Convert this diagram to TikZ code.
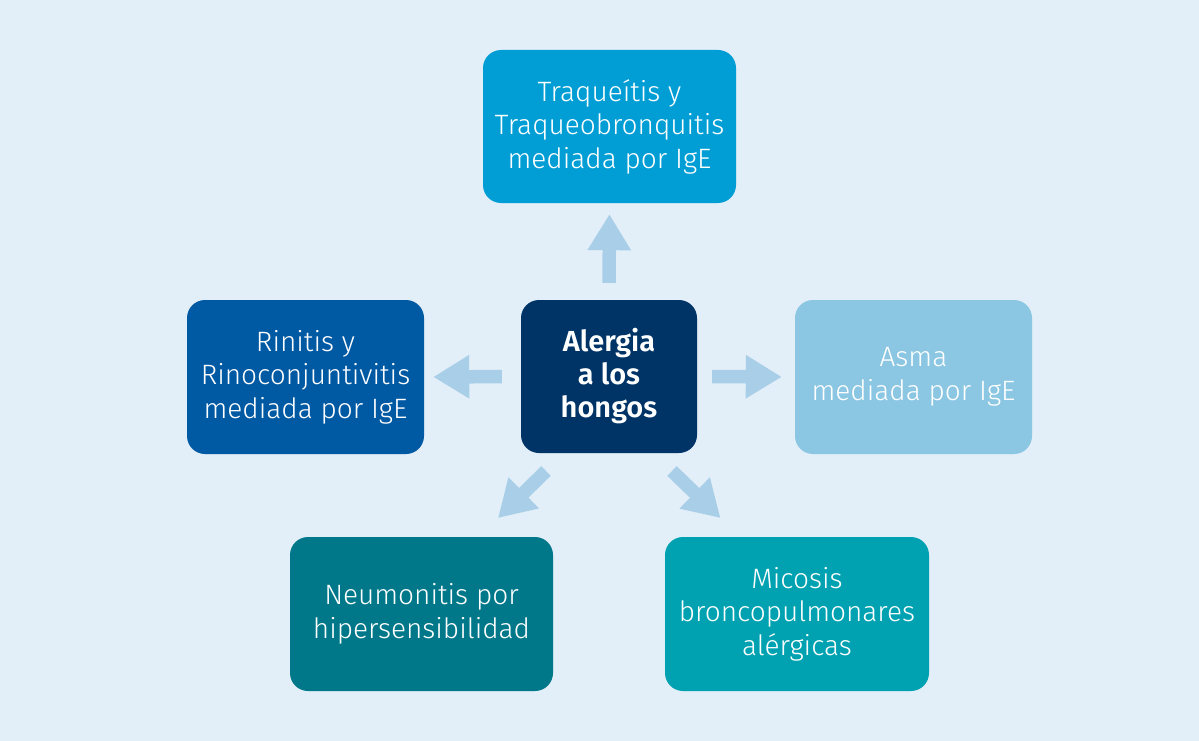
\documentclass[tikz,border=0pt]{standalone}
\usepackage{fontspec}
\setmainfont{Fira Sans Light}[BoldFont={Fira Sans SemiBold}]
\usetikzlibrary{arrows.meta}
\definecolor{bgc}{HTML}{E2EEF8}
\definecolor{ctop}{HTML}{009ED5}
\definecolor{cleft}{HTML}{0059A3}
\definecolor{ccen}{HTML}{003366}
\definecolor{cright}{HTML}{8BC6E2}
\definecolor{cbl}{HTML}{00788A}
\definecolor{cbr}{HTML}{00A2B2}
\definecolor{carr}{HTML}{A9CFE8}
\tikzset{
  box/.style={rectangle, rounded corners=18pt, draw=none, text=white, align=center,
    font=\fontsize{28}{33.5}\selectfont, inner sep=0pt},
  bigarrow/.style={draw=carr, line width=13.5pt,
    -{Triangle[length=36pt,width=41pt]}}
}
\begin{document}
\begin{tikzpicture}[x=1pt,y=-1pt]
\fill[bgc] (0,0) rectangle (1199,741);
\useasboundingbox (0,0) rectangle (1199,741);
\node[box, fill=ctop, minimum width=253pt, minimum height=153pt] (top) at (609.5,126.5)
  {Traqueítis y\\Traqueobronquitis\\mediada por IgE};
\node[box, fill=cleft, minimum width=237pt, minimum height=154pt] (left) at (305.5,377)
  {Rinitis y\\Rinoconjuntivitis\\mediada por IgE};
\node[box, fill=ccen, minimum width=176pt, minimum height=153pt,
  font=\fontsize{29}{33}\selectfont\bfseries] (cen) at (609,376.5)
  {Alergia\\a los\\hongos};
\node[box, fill=cright, minimum width=237pt, minimum height=154pt] (right) at (913.5,377)
  {Asma\\mediada por IgE};
\node[box, fill=cbl, minimum width=263pt, minimum height=154pt] (bl) at (421.5,614)
  {Neumonitis por\\hipersensibilidad};
\node[box, fill=cbr, minimum width=264pt, minimum height=154pt] (br) at (797,614)
  {Micosis\\broncopulmonares\\alérgicas};
\coordinate (dla) at (546,471);
\coordinate (dlb) at (498,518);
\coordinate (dra) at (672,471);
\coordinate (drb) at (720.5,518);
\draw[bigarrow, shorten <=17pt, shorten >=11pt] (cen.north) -- (top.south);
\draw[bigarrow, shorten <=19pt, shorten >=9pt] (cen.west) -- (left.east);
\draw[bigarrow, shorten <=15pt, shorten >=13pt] (cen.east) -- (right.west);
\draw[bigarrow] (dla) -- (dlb);
\draw[bigarrow] (dra) -- (drb);
\end{tikzpicture}
\end{document}
